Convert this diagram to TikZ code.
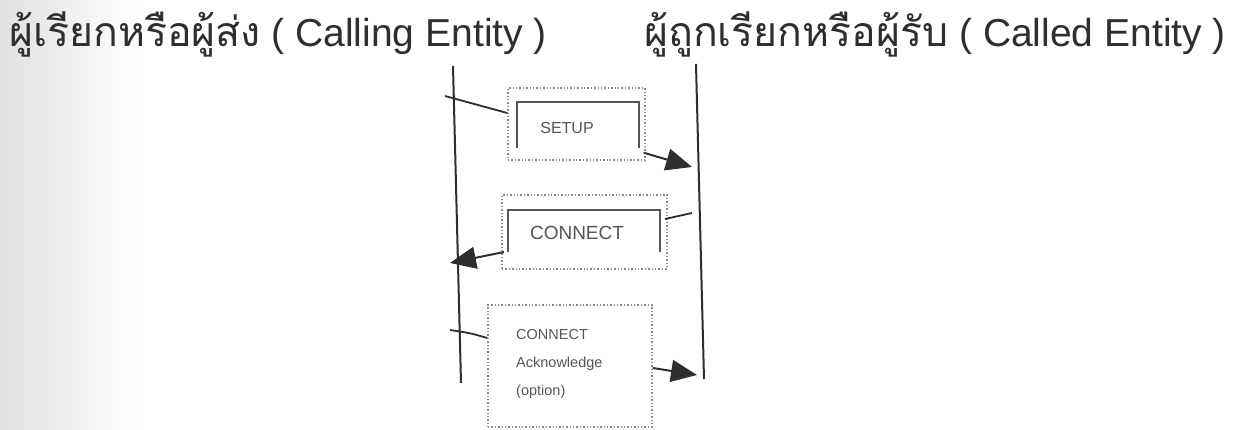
\documentclass[tikz,border=0pt]{standalone}
\usepackage{fontspec}
\setmainfont{Liberation Sans}
\newfontfamily\thaifont[Script=Thai]{Loma}
\usetikzlibrary{arrows.meta}
\definecolor{ink}{HTML}{2E2E2E}
\definecolor{boxink}{HTML}{555555}
\definecolor{dotink}{HTML}{8A8A8A}
\tikzset{
  title/.style={anchor=base west, inner sep=0pt, text=ink,
    font=\fontsize{39}{47}\selectfont},
  lifeline/.style={draw=ink, line width=2pt},
  frame/.style={draw=dotink, line width=1.4pt, dotted, rectangle, inner sep=0pt},
  bracket/.style={draw=boxink, line width=2.6pt},
  label/.style={text=boxink, inner sep=0pt},
  link/.style={draw=ink, line width=1.8pt},
  msg/.style={draw=ink, line width=2pt,
    -{Triangle[length=26pt,width=22pt]}},
}
\begin{document}
\begin{tikzpicture}[x=1pt,y=-1pt]
  \useasboundingbox (0,0) rectangle (1237,430);
  \shade[left color=black!12, right color=white] (0,0) rectangle (140,430);

  % headings
  \node[title] (calling) at (9,47) {{\thaifont\fontsize{41}{47}\selectfont ผู้เรียกหรือผู้ส่ง} ( Calling Entity )};
  \node[title] (called) at (644,47) {{\thaifont\fontsize{41}{47}\selectfont ผู้ถูกเรียกหรือผู้รับ} ( Called Entity )};

  % lifelines
  \coordinate (Ltop) at (453,66);
  \coordinate (Lbot) at (461,383);
  \coordinate (Rtop) at (696,64);
  \coordinate (Rbot) at (704,379);
  \draw[lifeline] (Ltop) -- (Lbot);
  \draw[lifeline] (Rtop) -- (Rbot);

  % SETUP
  \node[frame, minimum width=137pt, minimum height=72pt] (setup) at (576.5,124) {};
  \draw[bracket] (517,148) -- (517,102) -- (639,102) -- (639,148);
  \node[label, font=\fontsize{16}{18}\selectfont] (setupt) at (567,128) {SETUP};
  \coordinate (s1) at (445,96);
  \coordinate (s2) at (692,167);
  \draw[link] (s1) -- (setup.west |- 0,113);
  \draw[msg] (setup.south east) ++(-2,-8) -- (s2);

  % CONNECT
  \node[frame, minimum width=165pt, minimum height=74pt] (connect) at (584.5,232) {};
  \draw[bracket] (508,252) -- (508,210) -- (660,210) -- (660,252);
  \node[label, font=\fontsize{19}{21}\selectfont] (connectt) at (577,233) {CONNECT};
  \coordinate (c1) at (692,213);
  \coordinate (c2) at (450,263);
  \draw[link] (c1) -- (665,219);
  \draw[msg] (504,252) -- (c2);

  % CONNECT Acknowledge (option)
  \node[frame, minimum width=164pt, minimum height=122pt] (ack) at (570,366) {};
  \node[label, anchor=base west, font=\fontsize{14.5}{16}\selectfont] (a1) at (516,340) {CONNECT};
  \node[label, anchor=base west, font=\fontsize{14.5}{16}\selectfont] (a2) at (516,367) {Acknowledge};
  \node[label, anchor=base west, font=\fontsize{14.5}{16}\selectfont] (a3) at (516,395) {(option)};
  \coordinate (k1) at (450,330);
  \coordinate (k2) at (697,375);
  \draw[link] (k1) .. controls (470,333) .. (ack.west |- 0,338);
  \draw[msg] (ack.east |- 0,368) -- (k2);
\end{tikzpicture}
\end{document}
